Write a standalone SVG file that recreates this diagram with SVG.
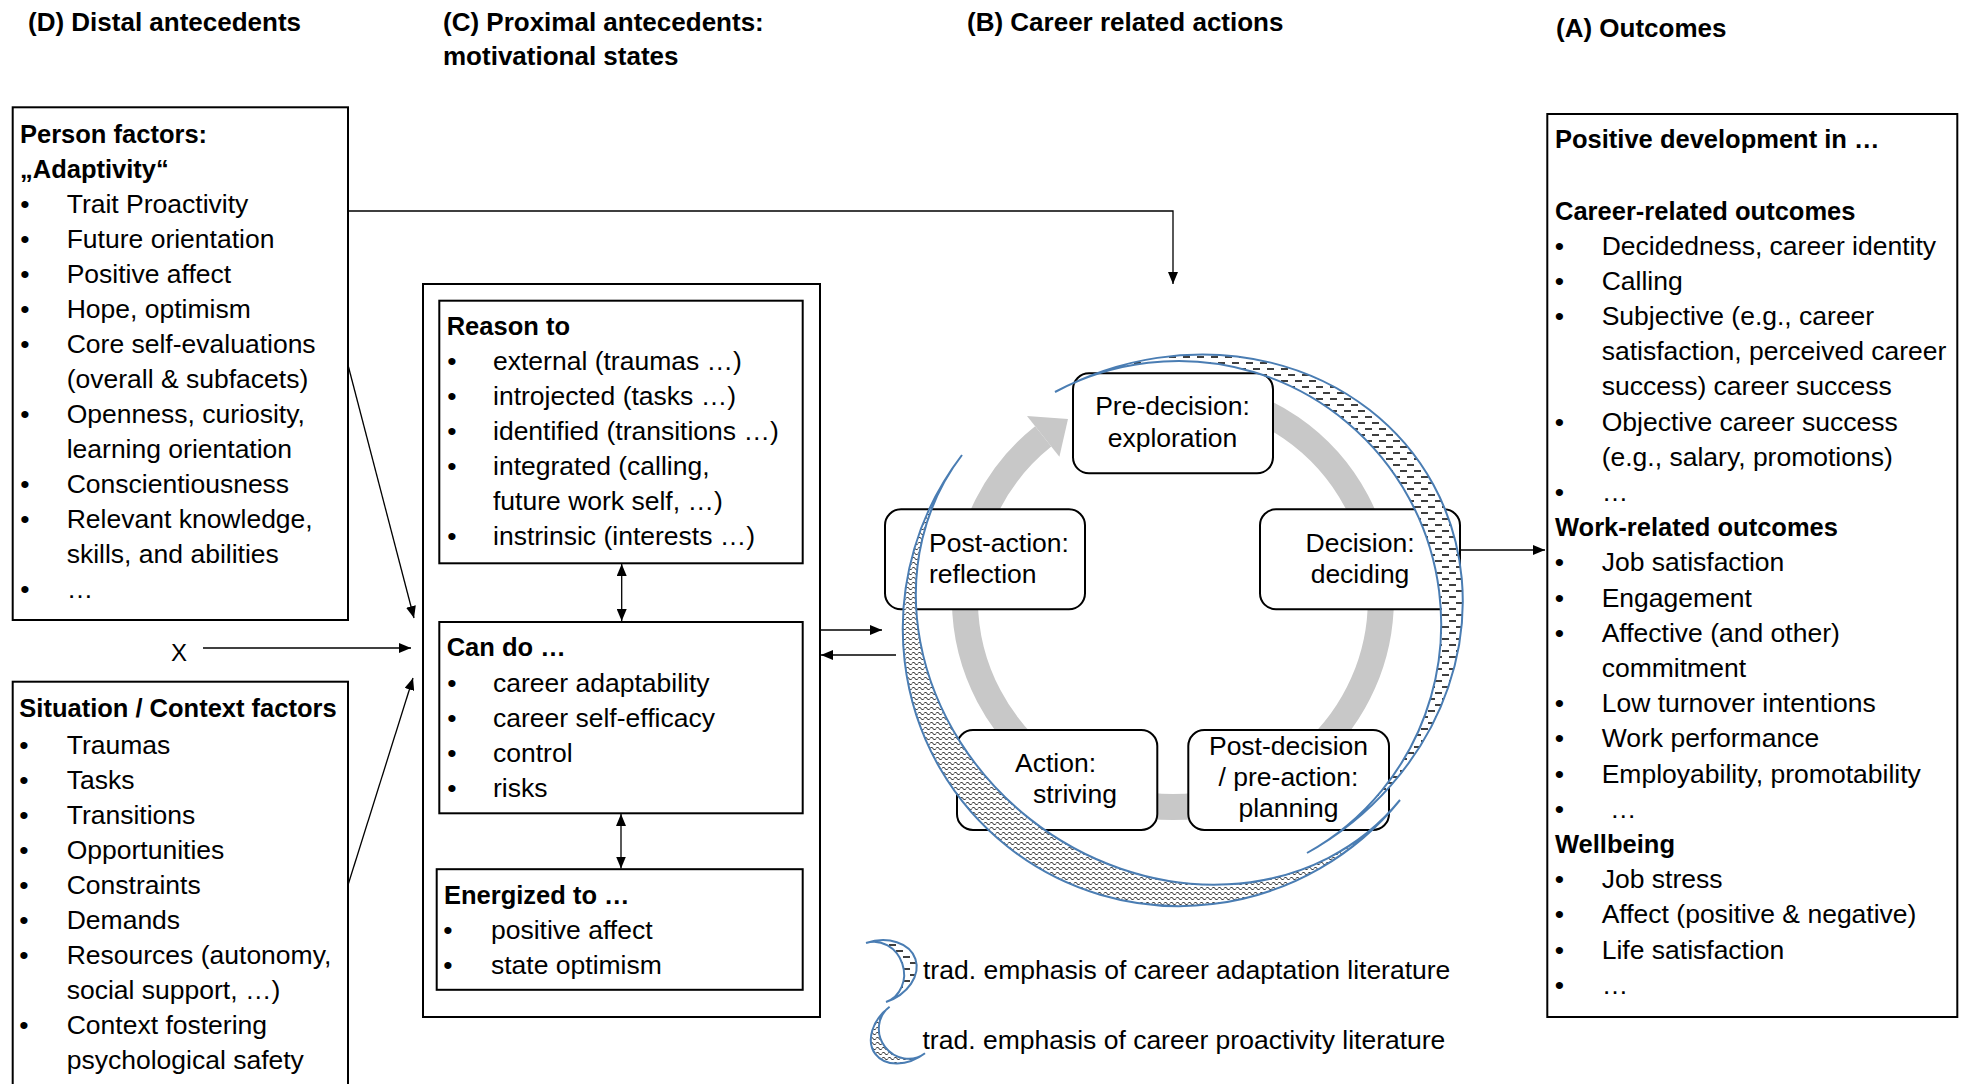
<svg xmlns="http://www.w3.org/2000/svg" width="1961" height="1084" viewBox="0 0 1961 1084">
<style>
text { font-family: "Liberation Sans", Arial, sans-serif; font-size: 26.5px; fill: #000; }
.b { font-weight: bold; font-size: 25.5px; }
.h { font-weight: bold; font-size: 26px; }
.m { text-anchor: middle; }
.box { fill: #fff; stroke: #000; stroke-width: 2; }
.node { fill: #fff; stroke: #000; stroke-width: 2; }
.ln { fill: none; stroke: #000; stroke-width: 1.3; }
.moon { stroke: #4a7db3; stroke-width: 2; }
</style>
<defs>
<marker id="ah" viewBox="0 0 12 10" refX="12" refY="5" markerWidth="12" markerHeight="10" markerUnits="userSpaceOnUse" orient="auto-start-reverse">
<path d="M0,0 L12,5 L0,10 z" fill="#000"/>
</marker>
<pattern id="dash" patternUnits="userSpaceOnUse" width="14" height="12">
<rect width="14" height="12" fill="#fff"/>
<path d="M0 3h7M7 9h7" stroke="#000" stroke-width="1.6"/>
</pattern>
<pattern id="wave" patternUnits="userSpaceOnUse" width="6" height="5">
<rect width="6" height="5" fill="#fff"/>
<path d="M0 3.5Q1.5 0.5 3 3.5T6 3.5" fill="none" stroke="#000" stroke-width="1"/>
</pattern>
</defs>
<rect width="1961" height="1084" fill="#fff"/>

<g id="headers">
<text class="h" x="28" y="31">(D) Distal antecedents</text>
<text class="h" x="443" y="31">(C) Proximal antecedents:</text>
<text class="h" x="443" y="65">motivational states</text>
<text class="h" x="967" y="31">(B) Career related actions</text>
<text class="h" x="1556" y="37">(A) Outcomes</text>
</g>

<g id="person-factors">
<rect class="box" x="12.7" y="107.3" width="335.3" height="512.7"/>
<text class="b" x="20" y="143.4">Person factors:</text>
<text class="b" x="20" y="178.4">„Adaptivity“</text>
<text class="m" x="25" y="213.4">•</text><text class="m" x="25" y="248.4">•</text><text class="m" x="25" y="283.4">•</text><text class="m" x="25" y="318.4">•</text><text class="m" x="25" y="353.4">•</text><text class="m" x="25" y="423.4">•</text><text class="m" x="25" y="493.4">•</text><text class="m" x="25" y="528.4">•</text><text class="m" x="25" y="598.4">•</text>
<text x="66.7" y="213.4">Trait Proactivity</text>
<text x="66.7" y="248.4">Future orientation</text>
<text x="66.7" y="283.4">Positive affect</text>
<text x="66.7" y="318.4">Hope, optimism</text>
<text x="66.7" y="353.4">Core self-evaluations</text>
<text x="66.7" y="388.4">(overall &amp; subfacets)</text>
<text x="66.7" y="423.4">Openness, curiosity,</text>
<text x="66.7" y="458.4">learning orientation</text>
<text x="66.7" y="493.4">Conscientiousness</text>
<text x="66.7" y="528.4">Relevant knowledge,</text>
<text x="66.7" y="563.4">skills, and abilities</text>
<text x="66.7" y="598.4">…</text>
</g>

<g id="x-label">
<text x="171" y="660.5" style="font-size:24px">X</text>
</g>

<g id="situation-factors">
<rect class="box" x="12.7" y="681.7" width="335.3" height="420"/>
<text class="b" x="19.3" y="717">Situation / Context factors</text>
<text class="m" x="24" y="753.5">•</text><text class="m" x="24" y="788.5">•</text><text class="m" x="24" y="823.5">•</text><text class="m" x="24" y="858.5">•</text><text class="m" x="24" y="893.5">•</text><text class="m" x="24" y="928.5">•</text><text class="m" x="24" y="963.5">•</text><text class="m" x="24" y="1033.5">•</text>
<text x="66.7" y="753.5">Traumas</text>
<text x="66.7" y="788.5">Tasks</text>
<text x="66.7" y="823.5">Transitions</text>
<text x="66.7" y="858.5">Opportunities</text>
<text x="66.7" y="893.5">Constraints</text>
<text x="66.7" y="928.5">Demands</text>
<text x="66.7" y="963.5">Resources (autonomy,</text>
<text x="66.7" y="998.5">social support, …)</text>
<text x="66.7" y="1033.5">Context fostering</text>
<text x="66.7" y="1068.5">psychological safety</text>
</g>

<g id="motivational-states">
<rect class="box" x="423" y="284" width="397" height="733"/>
</g>

<g id="reason-to">
<rect class="box" x="439.3" y="300.7" width="363.4" height="262.6"/>
<text class="b" x="446.7" y="334.5">Reason to</text>
<text class="m" x="452" y="369.5">•</text><text class="m" x="452" y="404.5">•</text><text class="m" x="452" y="439.5">•</text><text class="m" x="452" y="474.5">•</text><text class="m" x="452" y="544.5">•</text>
<text x="493" y="369.5">external (traumas …)</text>
<text x="493" y="404.5">introjected (tasks …)</text>
<text x="493" y="439.5">identified (transitions …)</text>
<text x="493" y="474.5">integrated (calling,</text>
<text x="493" y="509.5">future work self, …)</text>
<text x="493" y="544.5">instrinsic (interests …)</text>
</g>

<g id="can-do">
<rect class="box" x="439.3" y="622" width="363.4" height="191.3"/>
<text class="b" x="446.7" y="656">Can do …</text>
<text class="m" x="452" y="691.5">•</text><text class="m" x="452" y="726.5">•</text><text class="m" x="452" y="761.5">•</text><text class="m" x="452" y="796.5">•</text>
<text x="493" y="691.5">career adaptability</text>
<text x="493" y="726.5">career self-efficacy</text>
<text x="493" y="761.5">control</text>
<text x="493" y="796.5">risks</text>
</g>

<g id="energized-to">
<rect class="box" x="436.7" y="869.2" width="366" height="120.6"/>
<text class="b" x="444" y="904">Energized to …</text>
<text class="m" x="448" y="939.2">•</text><text class="m" x="448" y="974.2">•</text>
<text x="491" y="939.2">positive affect</text>
<text x="491" y="974.2">state optimism</text>
</g>

<g id="cycle-ring">
<path d="M1209.1 394.2 A208 208 0 1 1 1043.2 436.4" fill="none" stroke="#c8c8c8" stroke-width="26"/>
<polygon points="1027,416.1 1068,419 1059.4,456.8" fill="#c8c8c8"/>
</g>

<g id="pre-decision">
<rect class="node" x="1073" y="373.3" width="200" height="100" rx="16"/>
<text class="m" x="1172.5" y="415">Pre-decision:</text>
<text class="m" x="1172.5" y="446.7">exploration</text>
</g>
<g id="decision">
<rect class="node" x="1260" y="509.3" width="200" height="100" rx="16"/>
<text class="m" x="1360" y="551.7">Decision:</text>
<text class="m" x="1360" y="583.3">deciding</text>
</g>
<g id="post-decision">
<rect class="node" x="1188.3" y="730" width="200.7" height="100" rx="16"/>
<text class="m" x="1288.5" y="755">Post-decision</text>
<text class="m" x="1288.5" y="786">/ pre-action:</text>
<text class="m" x="1288.5" y="817">planning</text>
</g>
<g id="action">
<rect class="node" x="957" y="730" width="200.3" height="100" rx="16"/>
<text x="1015" y="771.7">Action:</text>
<text x="1033" y="803.3">striving</text>
</g>
<g id="post-action">
<rect class="node" x="885" y="509.3" width="200" height="100" rx="16"/>
<text x="929" y="551.7">Post-action:</text>
<text x="929" y="583.3">reflection</text>
</g>

<g id="proactivity-emphasis">
<path class="moon" fill="url(#wave)" d="M962 455 A283 278.8 128.23 0 0 1400 800 A247 278.8 128.23 0 1 962 455 Z"/>
</g>
<g id="adaptation-emphasis">
<path class="moon" fill="url(#dash)" d="M1055 392 A290 262.7 -28.67 0 1 1307 853 A262 262.7 -28.67 0 0 1055 392 Z"/>
</g>

<g id="connectors">
<polyline class="ln" points="348,211 1173,211 1173,284" marker-end="url(#ah)"/>
<line class="ln" x1="348" y1="365" x2="414" y2="618" marker-end="url(#ah)"/>
<line class="ln" x1="203" y1="648" x2="411" y2="648" marker-end="url(#ah)"/>
<line class="ln" x1="348" y1="885" x2="413" y2="678" marker-end="url(#ah)"/>
<line class="ln" x1="621.7" y1="564" x2="621.7" y2="621" marker-start="url(#ah)" marker-end="url(#ah)"/>
<line class="ln" x1="621" y1="814" x2="621" y2="868.5" marker-start="url(#ah)" marker-end="url(#ah)"/>
<line class="ln" x1="820" y1="630" x2="882" y2="630" marker-end="url(#ah)"/>
<line class="ln" x1="896" y1="655" x2="821" y2="655" marker-end="url(#ah)"/>
<line class="ln" x1="1460" y1="550" x2="1545" y2="550" marker-end="url(#ah)"/>
</g>

<g id="outcomes">
<rect class="box" x="1547.3" y="114" width="410" height="903"/>
<text class="b" x="1555" y="148">Positive development in …</text>
<text class="b" x="1555" y="219.5">Career-related outcomes</text>
<text class="m" x="1559.3" y="254.5">•</text><text class="m" x="1559.3" y="289.7">•</text><text class="m" x="1559.3" y="324.9">•</text><text class="m" x="1559.3" y="430.5">•</text><text class="m" x="1559.3" y="500.9">•</text>
<text x="1601.7" y="254.5">Decidedness,  career identity</text>
<text x="1601.7" y="289.7">Calling</text>
<text x="1601.7" y="324.9">Subjective (e.g., career</text>
<text x="1601.7" y="360.1">satisfaction, perceived career</text>
<text x="1601.7" y="395.3">success) career success</text>
<text x="1601.7" y="430.5">Objective career success</text>
<text x="1601.7" y="465.7">(e.g., salary, promotions)</text>
<text x="1601.7" y="500.9">…</text>
<text class="b" x="1555" y="536.1">Work-related outcomes</text>
<text class="m" x="1559.3" y="571.3">•</text><text class="m" x="1559.3" y="606.5">•</text><text class="m" x="1559.3" y="641.7">•</text><text class="m" x="1559.3" y="712.1">•</text><text class="m" x="1559.3" y="747.3">•</text><text class="m" x="1559.3" y="782.5">•</text><text class="m" x="1559.3" y="817.7">•</text>
<text x="1601.7" y="571.3">Job satisfaction</text>
<text x="1601.7" y="606.5">Engagement</text>
<text x="1601.7" y="641.7">Affective (and other)</text>
<text x="1601.7" y="676.9">commitment</text>
<text x="1601.7" y="712.1">Low turnover intentions</text>
<text x="1601.7" y="747.3">Work performance</text>
<text x="1601.7" y="782.5">Employability, promotability</text>
<text x="1610" y="817.7">…</text>
<text class="b" x="1555" y="852.9">Wellbeing</text>
<text class="m" x="1559.3" y="888.1">•</text><text class="m" x="1559.3" y="923.3">•</text><text class="m" x="1559.3" y="958.5">•</text><text class="m" x="1559.3" y="993.7">•</text>
<text x="1601.7" y="888.1">Job stress</text>
<text x="1601.7" y="923.3">Affect (positive &amp; negative)</text>
<text x="1601.7" y="958.5">Life satisfaction</text>
<text x="1601.7" y="993.7">…</text>
</g>

<g id="legend">
<path class="moon" fill="url(#dash)" d="M866 943 A42 31.15 -18.73 0 1 886 1002 A28 31.15 -18.73 0 0 866 943 Z"/>
<text x="923" y="979">trad. emphasis of career adaptation literature</text>
<path class="moon" fill="url(#wave)" d="M889.6 1006.7 A40 29.26 142.78 0 0 925 1053.3 A28 29.26 142.78 0 1 889.6 1006.7 Z"/>
<text x="922.5" y="1049">trad. emphasis of career proactivity literature</text>
</g>
</svg>
